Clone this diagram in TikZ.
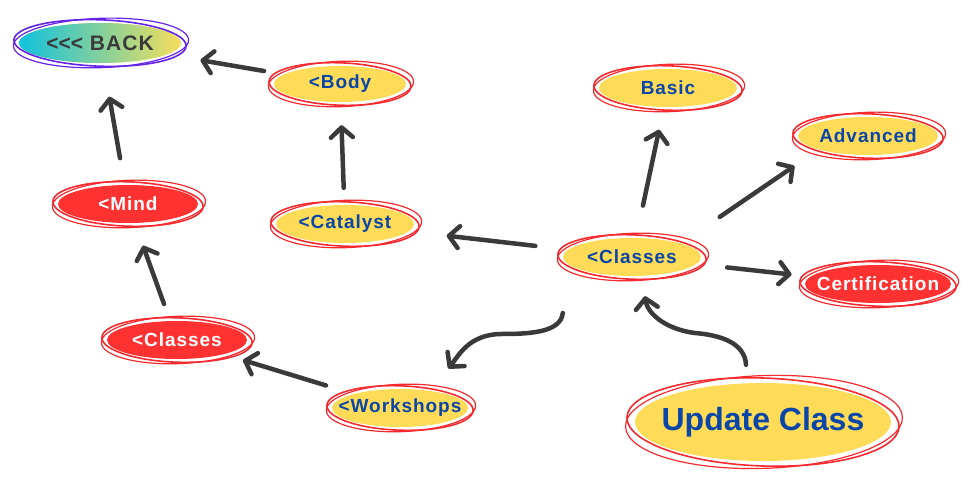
\documentclass[tikz,border=0pt]{standalone}
\usepackage{fontspec}
\newfontfamily\tagfont{Liberation Sans}[LetterSpace=5]
\newfontfamily\bigfont{Liberation Sans}
\usetikzlibrary{arrows.meta,positioning,calc,shapes.geometric}
\definecolor{ink}{HTML}{3A3A3A}
\definecolor{sun}{HTML}{FFDB58}
\definecolor{flame}{HTML}{F52A2F}
\definecolor{tomato}{HTML}{FF3131}
\definecolor{royal}{HTML}{0A46A8}
\definecolor{violet}{HTML}{6424E6}
\definecolor{aqua}{HTML}{10C2DE}
\definecolor{lemon}{HTML}{F6DE5C}
\tikzset{
  bubble/.style={
    ellipse,fill=sun,inner sep=-30pt,
    minimum height=38pt,minimum width=138pt,
    text=royal,font=\tagfont\bfseries\fontsize{19}{21}\selectfont
  },
  hotbubble/.style={bubble,fill=tomato,text=white},
  arrow/.style={-{Straight Barb[round,length=10pt,width=22pt]},draw=ink,line width=4.5pt,line cap=round,line join=round}
}
\newcommand{\ringaround}[3]{%
  \draw[#2,line width=1.6pt,rotate around={-2:(#1.center)}] let \p1=($(#1.east)-(#1.center)$),\p2=($(#1.north)-(#1.center)$) in
    (#1.center) ellipse [x radius=\x1+#3,y radius=\y2+#3*0.6];
  \draw[#2,line width=1.2pt,rotate around={2:(#1.center)}] let \p1=($(#1.east)-(#1.center)$),\p2=($(#1.north)-(#1.center)$) in
    ([xshift=1pt]#1.center) ellipse [x radius=\x1+#3*1.3,y radius=\y2+#3*0.9];
}

\begin{document}
\begin{tikzpicture}[x=1pt,y=-1pt]
\useasboundingbox (0,0) rectangle (972,490);

\node[bubble,left color=aqua,right color=lemon,minimum width=162pt,minimum height=40pt,text=ink,font=\tagfont\bfseries\fontsize{21}{23}\selectfont] (back) at (100,43) {<\kern0pt<\kern0pt< BACK};
\node[bubble,minimum width=132pt,minimum height=36pt] (body) at (340,84) {<Body};
\node[hotbubble,minimum width=140pt] (mind) at (128,204) {<Mind};
\node[bubble] (catalyst) at (345,224) {<Catalyst};
\node[hotbubble,minimum width=140pt] (pastclasses) at (177,340) {<Classes};
\node[bubble,minimum width=136pt] (workshops) at (400,408) {<Workshops};
\node[bubble] (classes) at (632,257) {<Classes};
\node[bubble] (basic) at (668,88) {Basic};
\node[bubble,minimum width=140pt] (advanced) at (868,136) {Advanced};
\node[hotbubble,minimum width=146pt] (certification) at (878,284) {Certification};
\node[bubble,minimum width=256pt,minimum height=78pt,font=\bigfont\bfseries\fontsize{32}{36}\selectfont] (update) at (763,422) {Update Class};

\ringaround{back}{violet}{5pt}
\ringaround{body}{flame}{5pt}
\ringaround{mind}{flame}{5pt}
\ringaround{catalyst}{flame}{5pt}
\ringaround{pastclasses}{flame}{5pt}
\ringaround{workshops}{flame}{5pt}
\ringaround{classes}{flame}{5pt}
\ringaround{basic}{flame}{5pt}
\ringaround{advanced}{flame}{5pt}
\ringaround{certification}{flame}{5pt}
\ringaround{update}{flame}{8pt}

\coordinate (bend) at (500,334);
\coordinate (hook) at (695,333);

\draw[arrow,shorten <=20pt,shorten >=34pt] (body) -- (back);
\draw[arrow,shorten <=27pt,shorten >=34pt] (mind) -- (back);
\draw[arrow,shorten <=17pt,shorten >=23pt] (catalyst) -- (body);
\draw[arrow,shorten <=18pt,shorten >=24pt] (pastclasses) -- (mind);
\draw[arrow,shorten <=29pt,shorten >=20pt] (workshops) -- (pastclasses);
\draw[arrow,shorten <=33pt,shorten >=38pt] (classes) -- (catalyst);
\draw[arrow,shorten <=33pt,shorten >=23pt] (classes) -- (basic);
\draw[arrow,shorten <=47pt,shorten >=29pt] (classes.north east) -- (advanced.south west);
\draw[arrow,shorten <=31pt,shorten >=19pt] (classes) -- (certification);
\draw[arrow] ([yshift=-56pt]classes.west) .. controls +(-2,20) and +(28,0) .. (bend) .. controls +(-32,1) and +(10,-12) .. ([yshift=26pt]workshops.north east);
\draw[arrow] ([xshift=-17pt,yshift=18pt]update.north) .. controls +(-1,-22) and +(25,2) .. (hook) .. controls +(-25,-3) and +(3,20) .. ([xshift=13pt,yshift=-20pt]classes.south);
\end{tikzpicture}
\end{document}
